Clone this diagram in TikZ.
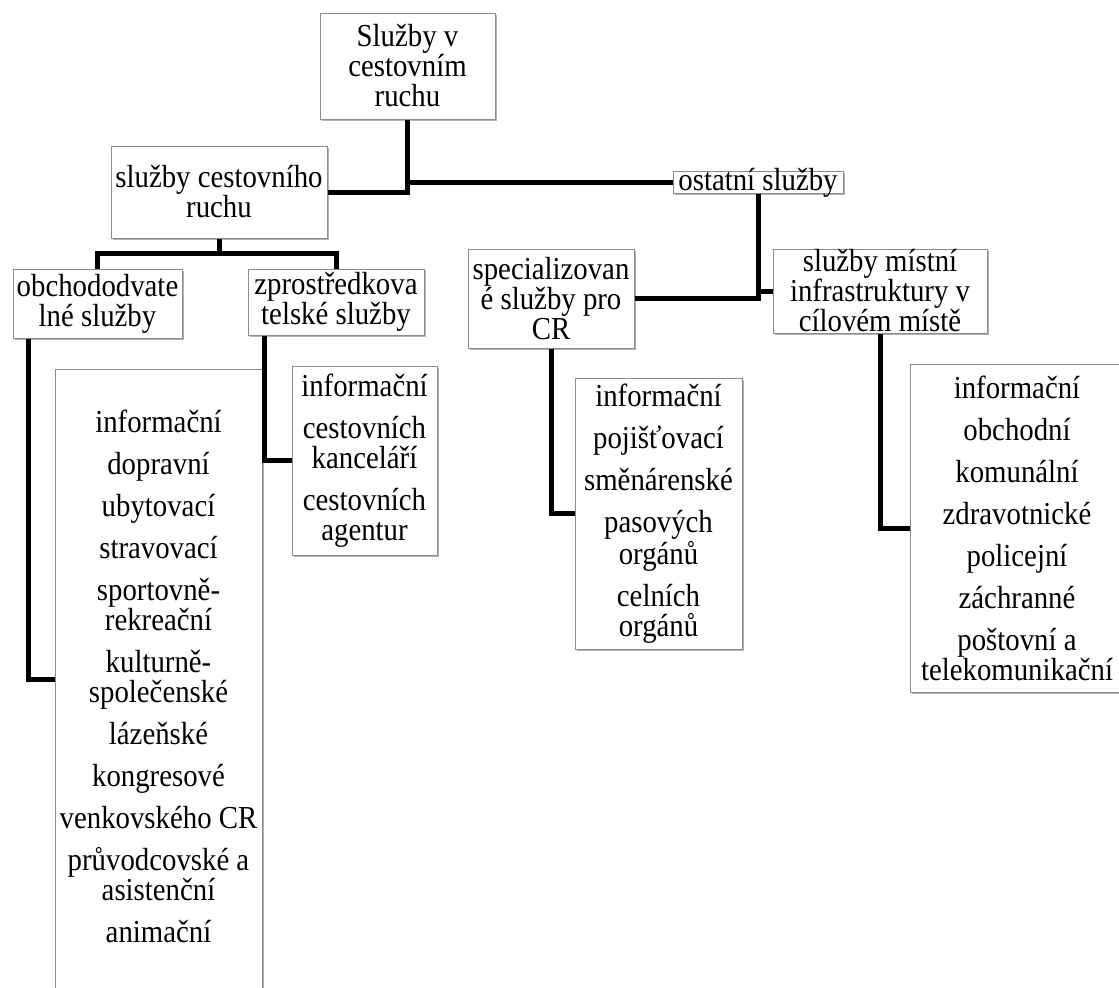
\documentclass[tikz,border=0pt]{standalone}
\usepackage{fontspec}
\setmainfont{Liberation Serif}[FakeStretch=0.9]
\usetikzlibrary{shadows,calc}
\definecolor{boxgray}{RGB}{140,140,140}
\newcommand\igap{\\[6pt]}
\begin{document}
\begin{tikzpicture}[x=0.5pt,y=-0.5pt,
  txt/.style={align=center, inner sep=0pt, font=\fontsize{16}{15}\selectfont},
  box/.style={txt, draw=boxgray, line width=0.5pt, fill=white,
    drop shadow={shadow xshift=0.8pt, shadow yshift=-1.2pt, opacity=0.3, fill=black}},
  conn/.style={line width=2.5pt, line join=miter, draw=black}]
\useasboundingbox (0,0) rectangle (1119,987);
\fill[white] (0,0) rectangle (1119,987);
\clip (0,0) rectangle (1119,987);

% boxes
\node[box, minimum width=87.5pt, minimum height=53pt] (root) at (407.5,66) {Služby v\\cestovním\\ruchu};
\node[box, minimum width=85pt, minimum height=11pt, text height=9.5pt, text depth=1.5pt] (ostatni) at (758,182) {ostatní služby};
\node[box, minimum width=108pt, minimum height=46pt] (cest) at (219,192) {služby cestovního\\ruchu};
\node[box, minimum width=84.5pt, minimum height=34.5pt] (obch) at (97.5,303.5) {obchododvate\\lné služby};
\node[box, minimum width=88pt, minimum height=33pt] (zprost) at (336,302) {zprostředkova\\telské služby};
\node[box, minimum width=83pt, minimum height=49.5pt] (spec) at (551,298.5) {specializovan\\é služby pro\\CR};
\node[box, minimum width=107pt, minimum height=42pt] (mistni) at (880,291) {služby místní\\infrastruktury v\\cílovém místě};

\node[box, minimum width=103.5pt, minimum height=325.5pt] (big) at (158.5,694.5) {};
\node[txt, anchor=north] (bigtxt) at (158.5,410) {informační\igap dopravní\igap ubytovací\igap stravovací\igap sportovně-\\rekreační\igap kulturně-\\společenské\igap lázeňské\igap kongresové\igap venkovského CR\igap průvodcovské a\\asistenční\igap animační};

\node[box, minimum width=72.5pt, minimum height=94.5pt] (small1) at (364.5,460.5) {informační\igap cestovních\\kanceláří\igap cestovních\\agentur};
\node[box, minimum width=83.5pt, minimum height=135.5pt] (small2) at (658.5,513.5) {informační\igap pojišťovací\igap směnárenské\igap pasových\\orgánů\igap celních\\orgánů};
\node[box, minimum width=107pt, minimum height=164pt] (small3) at (1017,528) {informační\igap obchodní\igap komunální\igap zdravotnické\igap policejní\igap záchranné\igap poštovní a\\telekomunikační};

% connectors
\coordinate (j1) at (root.south |- ostatni.west);
\draw[conn] (root.south) |- (ostatni.west);
\draw[conn] (cest.east) -| (j1);
\coordinate (b1) at ($(cest.south)+(0,15)$);
\draw[conn] (obch.north) |- (b1) -| (zprost.north);
\draw[conn] (cest.south) -- (b1);
\draw[conn] ([xshift=8pt]obch.south west) |- ([yshift=-155.5pt]big.north west);
\draw[conn] ([xshift=8.5pt]zprost.south west) |- (small1.west);
\draw[conn] (ostatni.south) |- (spec.east);
\draw[conn] (ostatni.south |- mistni.west) -- (mistni.west);
\draw[conn] (spec.south) |- (small2.west);
\draw[conn] (mistni.south) |- (small3.west);
\end{tikzpicture}
\end{document}
